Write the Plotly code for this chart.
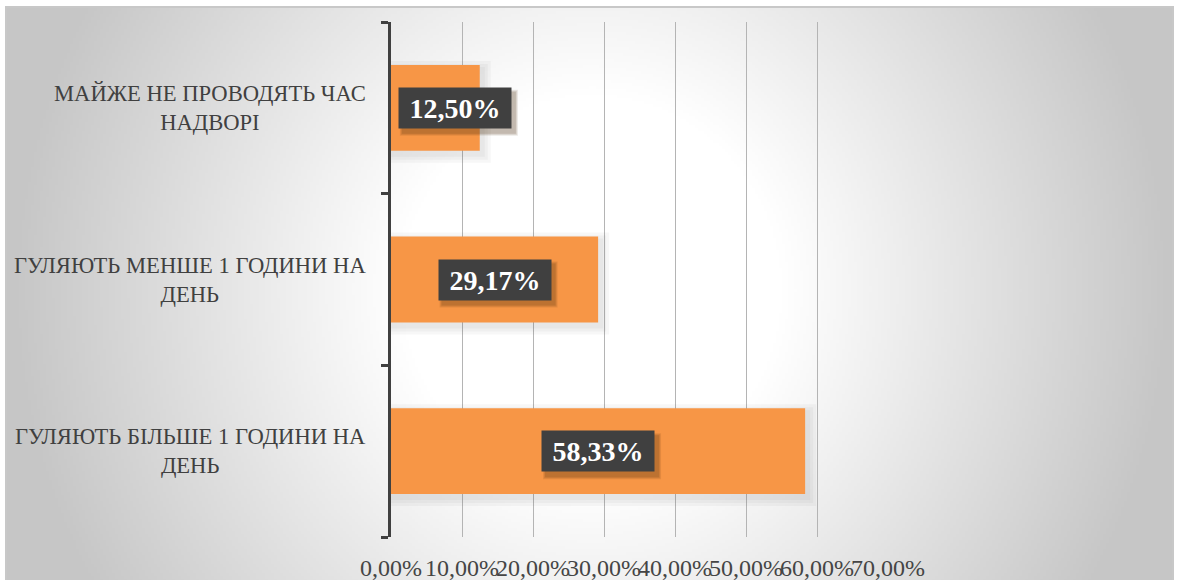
import base64
import struct
import zlib

import numpy as np
import plotly.graph_objects as go

# Survey answers (bottom to top on the chart) and their shares
categories = [
    "ГУЛЯЮТЬ БІЛЬШЕ 1 ГОДИНИ НА<br>ДЕНЬ",
    "ГУЛЯЮТЬ МЕНШЕ 1 ГОДИНИ НА<br>ДЕНЬ",
    "МАЙЖЕ НЕ ПРОВОДЯТЬ ЧАС<br>НАДВОРІ",
]
shares = [0.5833, 0.2917, 0.125]
x_ticks = [0.0, 0.1, 0.2, 0.3, 0.4, 0.5, 0.6, 0.7]

W, H = 1178, 580
ML, MR, MT, MB = 391, 290, 22, 43
PW, PH = W - ML - MR, H - MT - MB
X_MAX = 0.7
BAR_WIDTH = 0.5

SERIF = "Liberation Serif, DejaVu Serif, serif"
BAR = "#F79646"
DARK = "#404040"


def gradient_png(w, h, scale):
    """Radial grey-to-white fill for the chart area, as a PNG data URI."""
    ys, xs = np.mgrid[0:h, 0:w].astype(float)
    px = 6 + xs * scale
    py = 7 + ys * scale
    d = np.sqrt(((px - 590) / 580) ** 2 + ((py - 290) / 600) ** 2)
    t = np.clip((d - 0.33) / 0.67, 0, 1)
    img = (255 - 57 * t).astype(np.uint8)
    raw = b"".join(b"\x00" + row.tobytes() for row in img)

    def chunk(tag, data):
        c = struct.pack(">I", len(data)) + tag + data
        return c + struct.pack(">I", zlib.crc32(tag + data) & 0xFFFFFFFF)

    png = b"\x89PNG\r\n\x1a\n"
    png += chunk(b"IHDR", struct.pack(">IIBBBBB", w, h, 8, 0, 0, 0, 0))
    png += chunk(b"IDAT", zlib.compress(raw, 9))
    png += chunk(b"IEND", b"")
    return "data:image/png;base64," + base64.b64encode(png).decode()


def to_paper_x(px):
    return (px - ML) / PW


def to_paper_y(py):
    return (H - MB - py) / PH


fig = go.Figure()

fig.add_trace(
    go.Bar(
        y=categories,
        x=shares,
        orientation="h",
        marker=dict(color=BAR, line=dict(width=0)),
        width=BAR_WIDTH,
        hoverinfo="skip",
    )
)

# Soft shadow under each bar (drawn between the grid and the bars)
px_per_unit = PW / X_MAX
bar_half_px = BAR_WIDTH / 2 * PH / len(categories)
for cat, v in zip(categories, shares):
    for grow in (8, 5, 2):
        fig.add_shape(
            type="rect", xref="x", yref="y", layer="between",
            ysizemode="pixel", yanchor=cat,
            x0=0, x1=v + (3 + grow) / px_per_unit,
            y0=-bar_half_px - 4 - grow, y1=bar_half_px - 4 + grow,
            line=dict(width=0), fillcolor="rgba(90,90,90,0.05)",
        )

# Value labels in dark boxes with a soft drop shadow
label_min_center = 0.09
box_w, box_h = 112, 40
for cat, v in zip(categories, shares):
    txt = f"{v * 100:.2f}%".replace(".", ",")
    xc = max(v / 2, label_min_center)
    for k, alpha in enumerate([0.10, 0.12, 0.14]):
        grow = 3 - k
        fig.add_shape(
            type="rect", xref="x", yref="y",
            xsizemode="pixel", ysizemode="pixel", xanchor=xc, yanchor=cat,
            x0=-box_w / 2 + 4 - grow, x1=box_w / 2 + 4 + grow,
            y0=-box_h / 2 - 5 - grow, y1=box_h / 2 - 5 + grow,
            line=dict(width=0), fillcolor=f"rgba(70,40,10,{alpha})",
        )
    fig.add_annotation(
        x=xc, y=cat, xref="x", yref="y", text=f"<b>{txt}</b>",
        showarrow=False, font=dict(family=SERIF, size=28, color="white"),
        bgcolor=DARK, width=box_w - 10, height=box_h - 10, borderpad=5,
    )

# Category labels, centred line by line, right edge near the axis
for cat in categories:
    fig.add_annotation(
        x=0, y=cat, xref="x", yref="y", text=cat, showarrow=False,
        xanchor="right", align="center", xshift=-23,
        font=dict(family=SERIF, size=22.6, color="#404040"),
    )

# Chart-area background and frame
fig.add_layout_image(
    source=gradient_png(389, 193, 3),
    xref="paper", yref="paper",
    x=to_paper_x(6), y=to_paper_y(7),
    sizex=(1173 - 6) / PW, sizey=(580 - 7 + 3) / PH,
    xanchor="left", yanchor="top", sizing="stretch", layer="below",
)
fig.add_shape(
    type="rect", xref="paper", yref="paper",
    x0=to_paper_x(6), x1=to_paper_x(1173), y0=to_paper_y(590), y1=to_paper_y(7),
    line=dict(color="#c8c8c8", width=2), fillcolor="rgba(0,0,0,0)", layer="below",
)

fig.update_layout(
    width=W, height=H,
    margin=dict(l=ML, r=MR, t=MT, b=MB, pad=0, autoexpand=False),
    paper_bgcolor="white", plot_bgcolor="rgba(0,0,0,0)",
    separators=", ",
    showlegend=False,
    bargap=0.5,
    xaxis=dict(
        range=[0, X_MAX], tickvals=x_ticks, tickformat=".2%", tickangle=0,
        automargin=False,
        showgrid=True, gridcolor="#b4b4b4", gridwidth=1, zeroline=False,
        showline=False, ticks="outside", ticklen=9, tickcolor="rgba(0,0,0,0)",
        tickfont=dict(family=SERIF, size=24, color="#454545"),
        fixedrange=True,
    ),
    yaxis=dict(
        categoryorder="array", categoryarray=categories, automargin=False,
        showgrid=False, zeroline=False, showticklabels=False,
        showline=True, linecolor=DARK, linewidth=3,
        ticks="outside", tickson="boundaries", ticklen=7, tickwidth=3,
        tickcolor=DARK, fixedrange=True,
    ),
)

fig.write_html("out.html")
